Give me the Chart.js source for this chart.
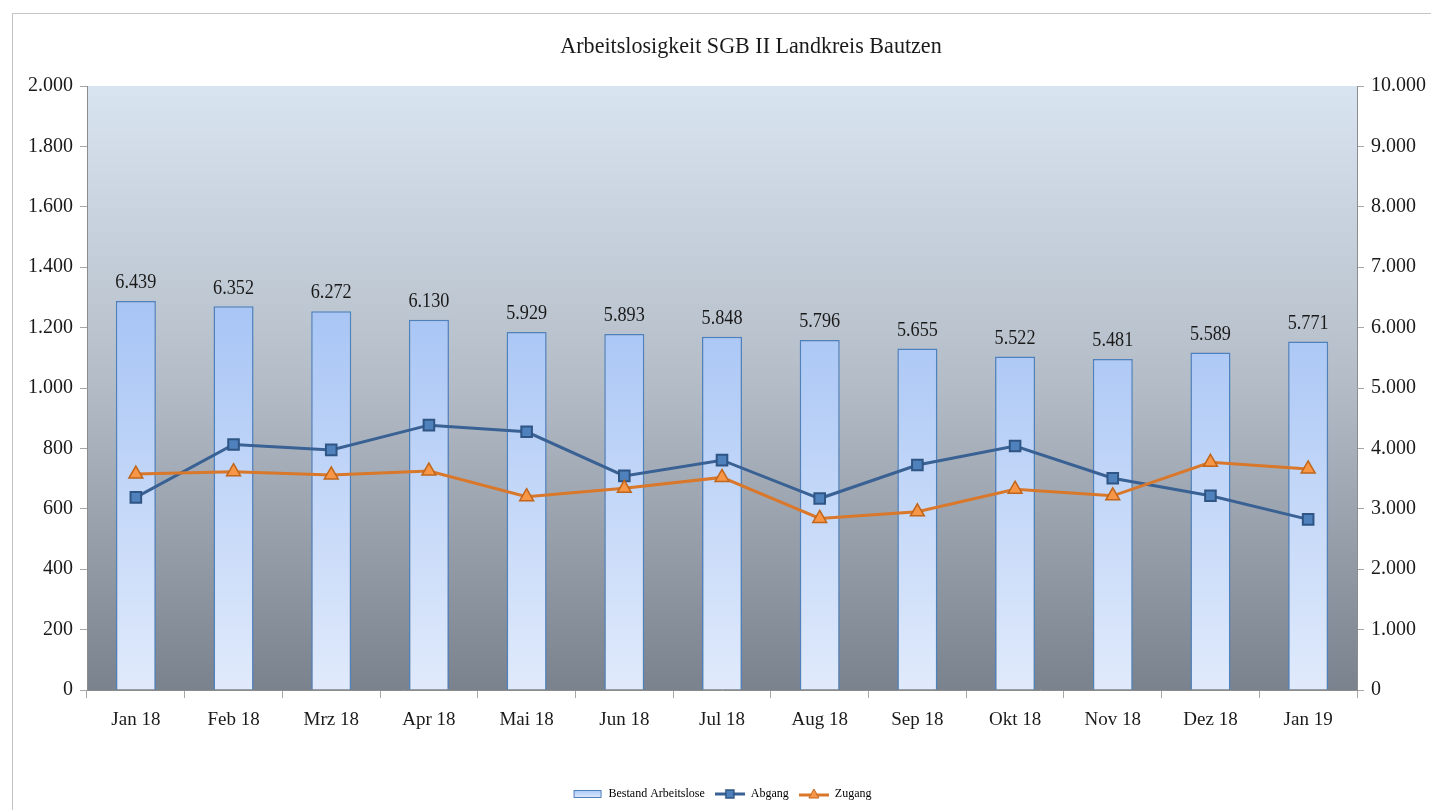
<!DOCTYPE html>
<html>
<head>
<meta charset="utf-8">
<script src="https://cdn.jsdelivr.net/npm/chart.js@4"></script>
<style>
  html, body { margin: 0; padding: 0; background: #fff; }
  #frame {
    position: absolute; left: 12px; top: 13px;
    width: 1425px; height: 800px;
    border: 1px solid #c4c4c4; box-sizing: border-box;
  }
  #wrap { position: absolute; left: 0; top: 0; width: 1418px; height: 796px; }
</style>
</head>
<body>
<div id="frame"><div id="wrap"><canvas id="chart"></canvas></div></div>
<script>
const chartTitle = 'Arbeitslosigkeit SGB II Landkreis Bautzen';
const months = ['Jan 18', 'Feb 18', 'Mrz 18', 'Apr 18', 'Mai 18', 'Jun 18', 'Jul 18',
                'Aug 18', 'Sep 18', 'Okt 18', 'Nov 18', 'Dez 18', 'Jan 19'];
const bestand = [6439, 6352, 6272, 6130, 5929, 5893, 5848, 5796, 5655, 5522, 5481, 5589, 5771];
const abgang = [638, 813, 795, 877, 855, 709, 761, 634, 745, 808, 701, 643, 565];
const zugang = [715, 723, 712, 725, 640, 668, 704, 568, 590, 665, 643, 754, 732];

const serif = "'Liberation Serif', 'Times New Roman', serif";

// 6439 -> "6.439"
function fmt(v) {
    return String(Math.round(v)).replace(/\B(?=(\d{3})+(?!\d))/g, '.');
}

// text a bit narrower than normal, like the original export
function narrowText(ctx, text, x, y, sx) {
    ctx.save();
    ctx.translate(x, y);
    ctx.scale(sx, 1);
    ctx.fillText(text, 0, 0);
    ctx.restore();
}

// plot area background (light blue-grey at top, darker grey at bottom)
const plotBg = {
    id: 'plotBg',
    beforeDraw(chart) {
        const { ctx, chartArea: a } = chart;
        const g = ctx.createLinearGradient(0, a.top, 0, a.bottom);
        g.addColorStop(0, '#d9e4f1');
        g.addColorStop(0.5, '#b3bcc6');
        g.addColorStop(1, '#7a838d');
        ctx.save();
        ctx.fillStyle = g;
        ctx.fillRect(a.left, a.top, a.right - a.left, a.bottom - a.top);
        ctx.restore();
    }
};

// title, centred over the plot area
const titlePlugin = {
    id: 'titlePlugin',
    afterDraw(chart) {
        const { ctx, chartArea: a } = chart;
        ctx.save();
        ctx.font = '24px ' + serif;
        ctx.fillStyle = '#1a1a1a';
        ctx.textAlign = 'center';
        ctx.textBaseline = 'middle';
        narrowText(ctx, chartTitle, (a.left + a.right) / 2 + 29, 33, 0.92);
        ctx.restore();
    }
};

// value labels above the bars
const barLabels = {
    id: 'barLabels',
    afterDatasetsDraw(chart) {
        const meta = chart.getDatasetMeta(0);
        const { ctx } = chart;
        ctx.save();
        ctx.font = '20px ' + serif;
        ctx.fillStyle = '#1a1a1a';
        ctx.textAlign = 'center';
        ctx.textBaseline = 'bottom';
        meta.data.forEach((bar, i) => {
            narrowText(ctx, fmt(bestand[i]), bar.x, bar.y - 8, 0.91);
        });
        ctx.restore();
    }
};

function legendIcon(kind) {
    const c = document.createElement('canvas');
    c.width = 30; c.height = 12;
    const x = c.getContext('2d');
    if (kind === 'bar') {
        const g = x.createLinearGradient(0, 2, 0, 10);
        g.addColorStop(0, '#a9c6f6');
        g.addColorStop(1, '#e0eafb');
        x.fillStyle = g;
        x.fillRect(1, 2, 28, 8);
        x.strokeStyle = '#4f81bd';
        x.lineWidth = 1;
        x.strokeRect(1.5, 2.5, 27, 7);
    } else if (kind === 'abgang') {
        x.strokeStyle = '#3a6194'; x.lineWidth = 3;
        x.beginPath(); x.moveTo(0, 6); x.lineTo(30, 6); x.stroke();
        x.fillStyle = '#4f81bd'; x.fillRect(11, 2, 8, 8);
        x.strokeStyle = '#2f5584'; x.lineWidth = 1.5; x.strokeRect(11, 2, 8, 8);
    } else {
        x.strokeStyle = '#d9772a'; x.lineWidth = 3;
        x.beginPath(); x.moveTo(0, 7); x.lineTo(30, 7); x.stroke();
        x.fillStyle = '#f79646';
        x.beginPath(); x.moveTo(15, 1); x.lineTo(20, 10); x.lineTo(10, 10); x.closePath();
        x.fill();
        x.strokeStyle = '#c0651a'; x.lineWidth = 1; x.stroke();
    }
    return c;
}

const ctx = document.getElementById('chart').getContext('2d');
new Chart(ctx, {
    data: {
        labels: months,
        datasets: [
            {
                type: 'bar',
                label: 'Bestand Arbeitslose',
                data: bestand,
                yAxisID: 'yR',
                order: 2,
                backgroundColor: (c) => {
                    const a = c.chart.chartArea;
                    if (!a) return '#c5d9f8';
                    const g = c.chart.ctx.createLinearGradient(0, a.top + 210, 0, a.bottom);
                    g.addColorStop(0, '#a6c4f5');
                    g.addColorStop(1, '#e0eafb');
                    return g;
                },
                borderColor: '#4f81bd',
                borderWidth: 1.5,
                categoryPercentage: 1,
                barPercentage: 0.41
            },
            {
                type: 'line',
                label: 'Abgang',
                data: abgang,
                yAxisID: 'yL',
                order: 1,
                borderColor: '#3a6194',
                borderWidth: 3,
                pointStyle: 'rect',
                pointRadius: 7.5,
                pointBackgroundColor: '#4f81bd',
                pointBorderColor: '#2f5584',
                pointBorderWidth: 2,
                tension: 0
            },
            {
                type: 'line',
                label: 'Zugang',
                data: zugang,
                yAxisID: 'yL',
                order: 0,
                borderColor: '#d9772a',
                borderWidth: 3,
                pointStyle: 'triangle',
                pointRadius: 8,
                pointBackgroundColor: '#f79646',
                pointBorderColor: '#c0651a',
                pointBorderWidth: 1.5,
                tension: 0
            }
        ]
    },
    options: {
        responsive: true,
        maintainAspectRatio: false,
        animation: false,
        layout: { padding: { top: 72, left: 0, right: 0, bottom: 0 } },
        plugins: {
            title: { display: false },
            legend: {
                position: 'bottom',
                labels: {
                    usePointStyle: true,
                    pointStyleWidth: 30,
                    color: '#1a1a1a',
                    font: { family: serif, size: 12 },
                    padding: 10,
                    generateLabels: () => [
                        { text: 'Bestand Arbeitslose', pointStyle: legendIcon('bar'), datasetIndex: 0, lineWidth: 0 },
                        { text: 'Abgang', pointStyle: legendIcon('abgang'), datasetIndex: 1, lineWidth: 0 },
                        { text: 'Zugang', pointStyle: legendIcon('zugang'), datasetIndex: 2, lineWidth: 0 }
                    ]
                }
            },
            tooltip: { enabled: false }
        },
        scales: {
            x: {
                offset: true,
                grid: {
                    offset: true,
                    drawOnChartArea: false,
                    drawTicks: true,
                    tickLength: 8,
                    color: '#a6a6a6'
                },
                border: { display: true, color: '#8c8c8c', width: 1 },
                ticks: {
                    color: '#1a1a1a',
                    font: { family: serif, size: 19 },
                    padding: 11,
                    maxRotation: 0
                },
                afterFit: (s) => { s.height = 88; }
            },
            yL: {
                position: 'left',
                min: 0,
                max: 2000,
                grid: { drawOnChartArea: false, tickLength: 7, color: '#a6a6a6' },
                border: { display: true, color: '#8c8c8c', width: 1 },
                ticks: {
                    stepSize: 200,
                    color: '#1a1a1a',
                    font: { family: serif, size: 20 },
                    padding: 7,
                    callback: (v) => fmt(v)
                },
                afterFit: (s) => { s.width = 74; }
            },
            yR: {
                position: 'right',
                min: 0,
                max: 10000,
                grid: { drawOnChartArea: false, tickLength: 7, color: '#a6a6a6' },
                border: { display: true, color: '#8c8c8c', width: 1 },
                ticks: {
                    stepSize: 1000,
                    color: '#1a1a1a',
                    font: { family: serif, size: 20 },
                    padding: 7,
                    callback: (v) => fmt(v)
                },
                afterFit: (s) => { s.width = 74; }
            }
        }
    },
    plugins: [plotBg, barLabels, titlePlugin]
});
</script>
</body>
</html>
